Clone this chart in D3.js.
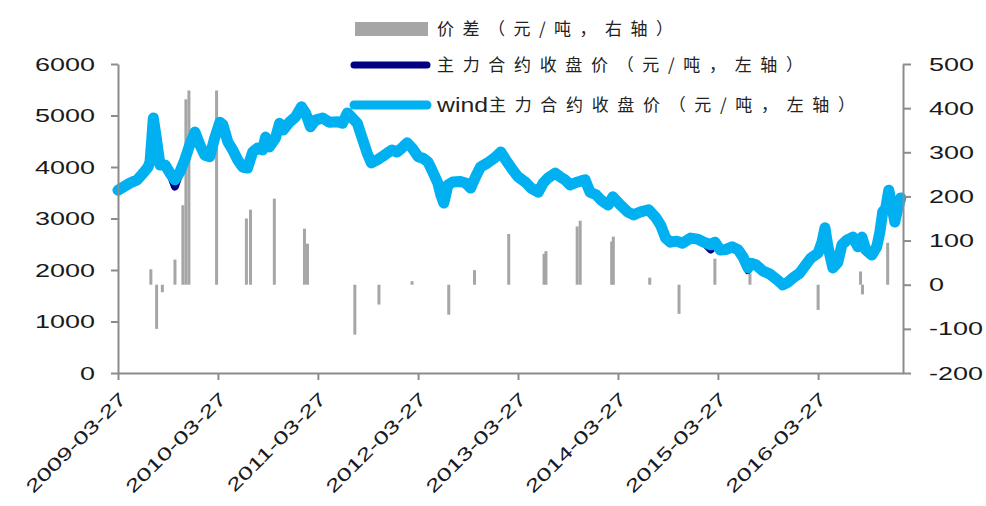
<!DOCTYPE html>
<html>
<head>
<meta charset="utf-8">
<script src="https://cdn.jsdelivr.net/npm/d3@7"></script>
<style>
  body { margin: 0; background: #fff; }
  svg { display: block; }
</style>
</head>
<body>
<div id="chart"></div>
<script>
// price data (yuan/ton)
const dates = [
  "2009-03-27","2009-05-10","2009-06-05","2009-06-27","2009-07-15","2009-07-22","2009-08-03","2009-08-14","2009-08-21","2009-08-28","2009-09-15","2009-10-03","2009-10-21","2009-11-08","2009-11-26","2009-12-14",
  "2010-01-02","2010-01-20","2010-02-07","2010-02-25","2010-03-15","2010-04-03","2010-04-14","2010-05-02","2010-05-20","2010-06-07","2010-06-25","2010-07-13","2010-08-01","2010-08-19","2010-09-06","2010-09-17","2010-10-01","2010-10-23","2010-11-07","2010-11-21","2010-12-13",
  "2011-01-04","2011-01-26","2011-02-10","2011-02-28","2011-03-18","2011-04-13","2011-05-08","2011-06-07","2011-06-25","2011-07-13","2011-07-31","2011-08-18","2011-09-05","2011-09-23","2011-10-08","2011-10-30","2011-11-17","2011-12-05","2011-12-23",
  "2012-01-10","2012-01-28","2012-02-16","2012-03-05","2012-03-27","2012-04-14","2012-05-02","2012-05-20","2012-06-07","2012-06-18","2012-06-29","2012-07-14","2012-08-01","2012-08-26","2012-09-17","2012-10-05","2012-10-23","2012-11-10","2012-12-06",
  "2013-01-01","2013-01-23","2013-02-10","2013-03-08","2013-03-27","2013-04-22","2013-05-14","2013-06-09","2013-06-27","2013-07-15","2013-08-10","2013-08-28","2013-09-15","2013-10-03","2013-10-25","2013-11-12","2013-11-27","2013-12-15",
  "2014-01-06","2014-01-24","2014-02-19","2014-03-08","2014-04-05","2014-05-01","2014-05-23","2014-06-18","2014-07-17","2014-08-12","2014-08-30","2014-09-17","2014-10-05","2014-10-27","2014-11-18","2014-12-17",
  "2015-01-12","2015-02-03","2015-03-01","2015-03-16","2015-04-04","2015-04-26","2015-05-18","2015-06-09","2015-06-27","2015-07-15","2015-07-26","2015-08-13","2015-09-08","2015-10-03","2015-11-01","2015-11-19","2015-12-07","2015-12-29",
  "2016-01-20","2016-02-11","2016-02-29","2016-03-27","2016-04-10","2016-04-21","2016-05-02","2016-05-20","2016-06-07","2016-06-22","2016-07-10","2016-08-01","2016-08-19","2016-09-03","2016-09-17","2016-10-09","2016-10-27","2016-11-07","2016-11-18","2016-11-29","2016-12-10","2016-12-21",
  "2017-01-01","2017-01-12","2017-01-23"
];
const windClose = [
  3550,3690,3750,3880,4000,4100,4950,4560,4290,4040,4040,3880,3750,3900,4140,4430,
  4680,4430,4230,4200,4560,4870,4820,4490,4330,4140,4000,3980,4290,4370,4330,4580,4390,4560,4850,4720,4870,
  4970,5170,5050,4780,4910,4950,4870,4880,4850,5050,4950,4850,4560,4270,4080,4140,4200,4270,4330,
  4290,4370,4470,4370,4200,4170,4100,3900,3690,3460,3300,3650,3710,3720,3690,3590,3810,4000,4080,
  4180,4290,4140,3940,3810,3710,3590,3510,3690,3790,3880,3810,3750,3650,3700,3730,3750,3510,
  3460,3360,3260,3420,3260,3130,3070,3130,3170,3020,2870,2620,2540,2560,2520,2620,
  2600,2540,2490,2540,2390,2400,2450,2390,2250,2040,2130,2100,1980,1920,1800,1710,1760,1860,
  1940,2100,2230,2330,2540,2820,2450,2040,2150,2490,2580,2640,2450,2640,2390,2290,2450,2720,3130,3200,3550,3260,
  2930,3200,3400
];
const mainClose = [
  3550,3690,3750,3880,4000,4100,4950,4560,4290,4040,4040,3880,3620,3900,4140,4430,
  4680,4430,4230,4200,4560,4870,4820,4490,4330,4140,4000,3980,4290,4370,4330,4580,4390,4560,4850,4720,4870,
  4970,5170,5050,4780,4910,4950,4870,4880,4850,5050,4950,4850,4560,4270,4080,4140,4200,4270,4330,
  4290,4370,4470,4370,4200,4170,4100,3900,3690,3460,3300,3650,3710,3720,3690,3590,3810,4000,4080,
  4180,4290,4140,3940,3810,3710,3590,3510,3690,3790,3880,3810,3750,3650,3700,3730,3750,3510,
  3460,3360,3260,3420,3260,3130,3070,3130,3170,3020,2870,2620,2540,2560,2520,2620,
  2600,2540,2400,2540,2390,2400,2450,2390,2250,2000,2130,2100,1980,1920,1800,1710,1760,1860,
  1940,2100,2230,2330,2540,2820,2450,2040,2150,2490,2580,2640,2450,2640,2390,2290,2450,2720,3130,3200,3550,3260,
  2930,3200,3400
];

// price spread bars (right axis)
const spreadDates = [
  "2009-07-25","2009-08-15","2009-09-05","2009-10-21","2009-11-19","2009-11-30","2009-12-11",
  "2010-03-22","2010-07-09","2010-07-24","2010-10-19",
  "2011-02-06","2011-02-17","2011-08-09","2011-11-05",
  "2012-03-05","2012-07-17","2012-10-19",
  "2013-02-21","2013-06-30","2013-07-07","2013-10-29","2013-11-09",
  "2014-03-04","2014-03-10","2014-07-21","2014-11-05",
  "2015-03-16","2015-07-22",
  "2016-03-27","2016-08-29","2016-09-05","2016-12-06"
];
const spreadValues = [
  35,-100,-17,57,180,420,440,
  440,150,170,195,
  127,93,-113,-45,
  8,-68,33,
  115,70,76,132,145,
  98,109,16,-66,
  59,25,
  -57,30,-22,95
];

const xTickLabels = ["2009-03-27","2010-03-27","2011-03-27","2012-03-27","2013-03-27","2014-03-27","2015-03-27","2016-03-27"];
const leftTicks = [0, 1000, 2000, 3000, 4000, 5000, 6000];
const rightTicks = [-200, -100, 0, 100, 200, 300, 400, 500];
const legendLabels = ["价差（元/吨，右轴）", "主力合约收盘价（元/吨，左轴）", "主力合约收盘价（元/吨，左轴）"];

const parseDate = d3.timeParse("%Y-%m-%d");
const axisColor = "#8c8c8c";
const numFont = "'Liberation Sans', Arial, sans-serif";
const cjkFont = "'Noto Sans CJK SC', sans-serif";

const width = 986, height = 506;
const margin = { top: 64, right: 83, bottom: 133, left: 118 };
const plotW = width - margin.left - margin.right;
const plotH = height - margin.top - margin.bottom;

const svg = d3.select("#chart").append("svg")
  .attr("width", width)
  .attr("height", height);

const g = svg.append("g")
  .attr("transform", "translate(" + margin.left + "," + margin.top + ")");

const x = d3.scaleTime()
  .domain([parseDate("2009-03-27"), parseDate("2017-01-31")])
  .range([0, plotW]);
const yLeft = d3.scaleLinear().domain([0, 6000]).range([plotH, 0]);
const yRight = d3.scaleLinear().domain([-200, 500]).range([plotH, 0]);

// spread bars
g.selectAll(".bar")
  .data(spreadDates.map((d, i) => ({ date: parseDate(d), value: spreadValues[i] })))
  .enter()
  .append("rect")
  .attr("class", "bar")
  .attr("x", (d) => x(d.date) - 1.5)
  .attr("width", 3)
  .attr("y", (d) => yRight(Math.max(0, d.value)))
  .attr("height", (d) => Math.abs(yRight(d.value) - yRight(0)))
  .attr("fill", "#a6a6a6");

// lines
const line = d3.line()
  .x((d) => x(d.date))
  .y((d) => yLeft(d.value));

const mainSeries = dates.map((d, i) => ({ date: parseDate(d), value: mainClose[i] }));
const windSeries = dates.map((d, i) => ({ date: parseDate(d), value: windClose[i] }));

g.append("path")
  .datum(mainSeries)
  .attr("fill", "none")
  .attr("stroke", "#000080")
  .attr("stroke-width", 8)
  .attr("stroke-linejoin", "round")
  .attr("stroke-linecap", "round")
  .attr("d", line);

g.append("path")
  .datum(windSeries)
  .attr("fill", "none")
  .attr("stroke", "#00b0f0")
  .attr("stroke-width", 11)
  .attr("stroke-linejoin", "round")
  .attr("stroke-linecap", "round")
  .attr("d", line);

// axes
const sx = 1.42;
const plainInt = (d) => String(d);

const leftAxis = g.append("g")
  .call(d3.axisLeft(yLeft).tickValues(leftTicks).tickSize(7).tickSizeOuter(0).tickFormat(plainInt));
leftAxis.selectAll("text")
  .attr("x", -23 / sx)
  .attr("transform", "scale(" + sx + ",1)");

const rightAxis = g.append("g")
  .attr("transform", "translate(" + plotW + ",0)")
  .call(d3.axisRight(yRight).tickValues(rightTicks).tickSize(8).tickSizeOuter(0).tickFormat(plainInt));
rightAxis.selectAll("text")
  .attr("x", 26 / sx)
  .attr("transform", "scale(" + sx + ",1)");

const bottomAxis = g.append("g")
  .attr("transform", "translate(0," + plotH + ")")
  .call(d3.axisBottom(x).tickValues(xTickLabels.map(parseDate)).tickSize(7).tickSizeOuter(0).tickFormat(d3.timeFormat("%Y-%m-%d")));

[leftAxis, rightAxis, bottomAxis].forEach((ax) => {
  ax.select(".domain").attr("stroke", axisColor).attr("stroke-width", 2);
  ax.selectAll(".tick line").attr("stroke", axisColor).attr("stroke-width", 2);
  ax.selectAll("text")
    .attr("fill", "#1a1a1a")
    .style("font-family", numFont)
    .style("font-size", "19px");
});

// rotated date labels, a bit smaller so they stay inside the picture
bottomAxis.selectAll("text")
  .attr("x", 0)
  .attr("y", 0)
  .attr("dy", "0")
  .attr("text-anchor", "end")
  .style("font-size", "18px")
  .attr("transform", "translate(9,27) rotate(-45) scale(1.45,1)");

// legend
const legend = svg.append("g");
legend.append("rect")
  .attr("x", 355).attr("y", 22)
  .attr("width", 73).attr("height", 14)
  .attr("fill", "#a6a6a6");
legend.append("line")
  .attr("x1", 354).attr("x2", 427).attr("y1", 65).attr("y2", 65)
  .attr("stroke", "#000080").attr("stroke-width", 7).attr("stroke-linecap", "round");
legend.append("line")
  .attr("x1", 354).attr("x2", 427).attr("y1", 105).attr("y2", 105)
  .attr("stroke", "#00b0f0").attr("stroke-width", 9).attr("stroke-linecap", "round");

const legendText = [
  { x: 437, y: 29, len: 236, text: legendLabels[0] },
  { x: 437, y: 65, len: 366, text: legendLabels[1] },
  { x: 489, y: 105, len: 366, text: legendLabels[2] },
];
legend.selectAll(".ltext")
  .data(legendText)
  .enter()
  .append("text")
  .attr("x", (d) => d.x)
  .attr("y", (d) => d.y + 6)
  .attr("textLength", (d) => d.len)
  .attr("lengthAdjust", "spacing")
  .style("font-family", cjkFont)
  .style("font-size", "17px")
  .attr("fill", "#222")
  .text((d) => d.text);

legend.append("text")
  .attr("x", 437)
  .attr("y", 112)
  .attr("textLength", 51)
  .attr("lengthAdjust", "spacingAndGlyphs")
  .style("font-family", numFont)
  .style("font-size", "20px")
  .attr("fill", "#222")
  .text("wind");
</script>
</body>
</html>
